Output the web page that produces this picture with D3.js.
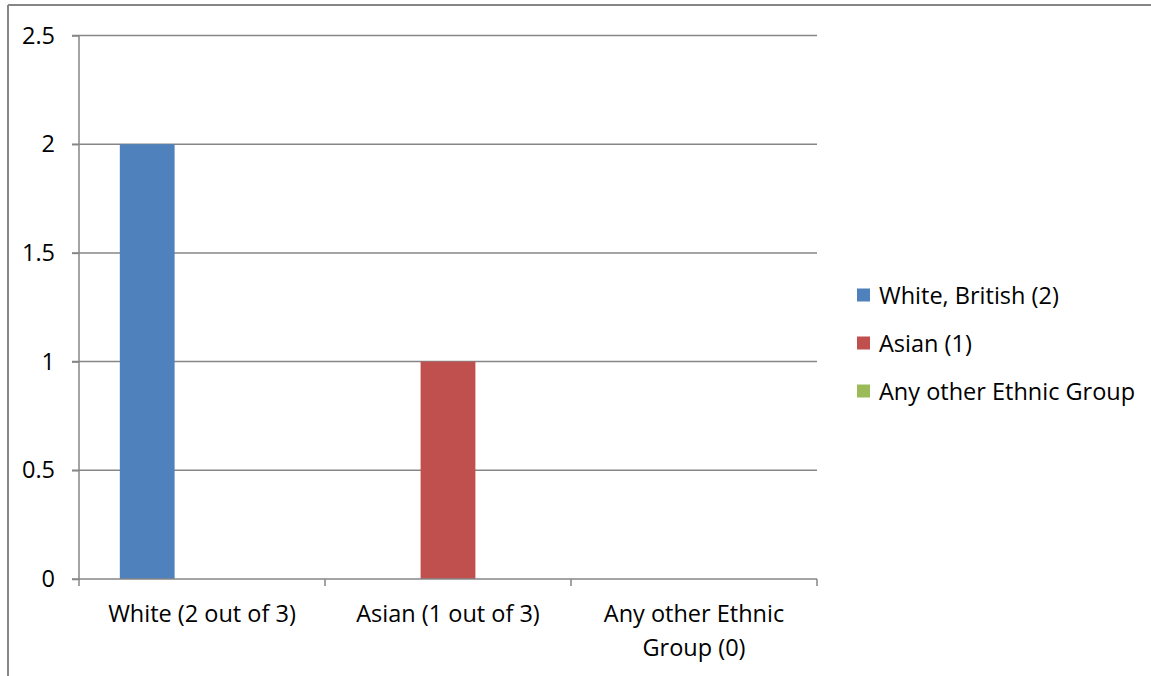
<!DOCTYPE html>
<html><head><meta charset="utf-8">
<script src="https://cdn.jsdelivr.net/npm/d3@7"></script>
<style>body{margin:0;background:#fff}svg{display:block}text{font-family:"Open Sans",sans-serif;fill:#000}</style>
</head><body><svg id="c" width="1151" height="676"></svg>
<script>
const categories = [["White (2 out of 3)"], ["Asian (1 out of 3)"], ["Any other Ethnic", "Group (0)"]];
const seriesNames = ["White, British (2)", "Asian (1)", "Any other Ethnic Group"];
const seriesColors = ["#4F81BD", "#C0504D", "#9BBB59"];
// values[series][category]
const values = [[2, 0, 0], [0, 1, 0], [0, 0, 0]];
const yTicks = [0, 0.5, 1, 1.5, 2, 2.5];

const svg = d3.select("#c");
const L = 79, R = 817, T = 35.5, B = 579;
const fs = 23.5;
const grey = "#868686";

// outer frame
svg.append("line").attr("x1", 8).attr("x2", 1151).attr("y1", 5).attr("y2", 5).attr("stroke", grey).attr("stroke-width", 2);
svg.append("line").attr("x1", 8).attr("x2", 8).attr("y1", 5).attr("y2", 676).attr("stroke", grey).attr("stroke-width", 2);

const x0 = d3.scaleBand().domain(d3.range(categories.length)).range([L, R]);
const x1 = d3.scaleBand().domain(d3.range(seriesNames.length)).range([0, x0.bandwidth()]).paddingOuter(0.745);
const y = d3.scaleLinear().domain([0, 2.5]).range([B, T]);

// gridlines
svg.append("g").selectAll("line").data(yTicks.filter(d => d > 0)).join("line")
  .attr("x1", L - 7).attr("x2", R).attr("y1", d => y(d)).attr("y2", d => y(d))
  .attr("stroke", grey).attr("stroke-width", 1.5);

// bars
const g = svg.append("g");
values.forEach((vals, s) => {
  g.selectAll(null).data(vals.map((v, c) => ({v, c}))).join("rect")
    .attr("x", d => x0(d.c) + x1(s)).attr("width", x1.bandwidth())
    .attr("y", d => y(d.v)).attr("height", d => y(0) - y(d.v))
    .attr("fill", seriesColors[s]);
});

// y axis
const ya = d3.axisLeft(y).tickValues(yTicks).tickFormat(d3.format("")).tickSize(7).tickPadding(17);
const yg = svg.append("g").attr("transform", `translate(${L},0)`).call(ya);
yg.select(".domain").attr("stroke", grey).attr("stroke-width", 1.5).attr("d", `M0,${T}V${B}`);
yg.selectAll(".tick line").attr("stroke", grey).attr("stroke-width", 1.5);
yg.selectAll("text").attr("font-size", fs).attr("font-family", "Open Sans").attr("fill", "#000");

// x axis
svg.append("line").attr("x1", L - 7).attr("x2", R).attr("y1", B).attr("y2", B).attr("stroke", grey).attr("stroke-width", 1.5);
svg.append("g").selectAll("line").data(d3.range(categories.length + 1)).join("line")
  .attr("x1", d => L + d * x0.step()).attr("x2", d => L + d * x0.step())
  .attr("y1", B).attr("y2", B + 7).attr("stroke", grey).attr("stroke-width", 1.5);
const xl = svg.append("g").selectAll("text").data(categories).join("text")
  .attr("x", (d, i) => x0(i) + x0.bandwidth() / 2).attr("y", 622)
  .attr("text-anchor", "middle").attr("font-size", fs);
xl.each(function(lines) {
  const t = d3.select(this);
  lines.forEach((ln, k) => t.append("tspan").attr("x", t.attr("x")).attr("dy", k ? 34 : 0).text(ln));
});

// legend
const lg = svg.append("g").selectAll("g").data(seriesNames).join("g")
  .attr("transform", (d, i) => `translate(857,${295 + i * 48})`);
lg.append("rect").attr("x", 0).attr("y", -6.5).attr("width", 13).attr("height", 13).attr("fill", (d, i) => seriesColors[i]);
lg.append("text").attr("x", 22).attr("y", 8.5).attr("font-size", fs).text(d => d);
</script></body></html>
